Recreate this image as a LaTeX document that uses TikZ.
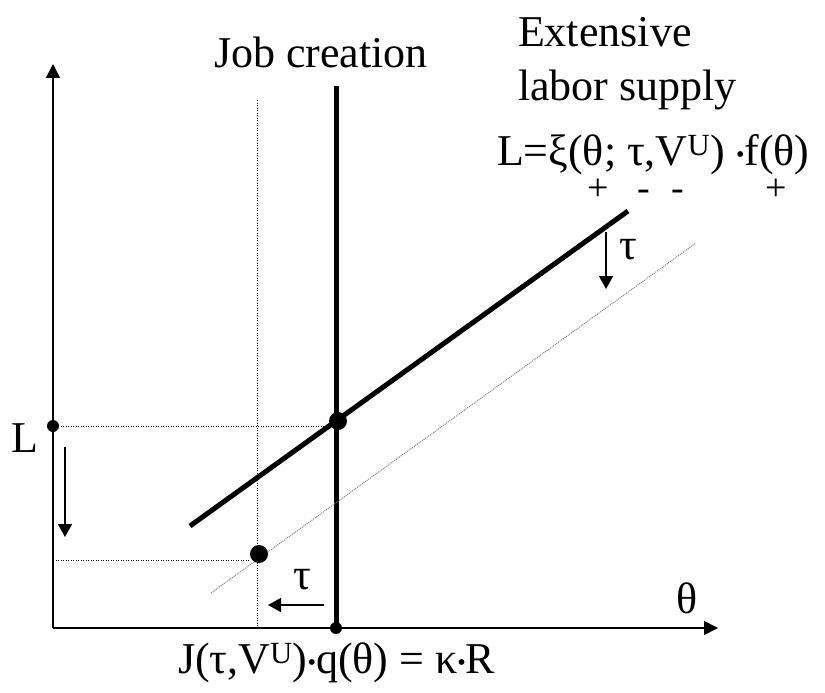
\documentclass[tikz,border=0pt]{standalone}
\usepackage{fontspec}
\setmainfont{Liberation Serif}
\usetikzlibrary{arrows.meta}
\newcommand{\mdt}{\raisebox{0.05em}{\scalebox{0.55}{•}}}
\tikzset{
  txt/.style={inner sep=0pt, outer sep=0pt, font=\fontsize{44}{53}\selectfont},
  sgn/.style={inner sep=0pt, outer sep=0pt, anchor=base, font=\fontsize{38}{38}\selectfont},
  axisline/.style={line width=1.6pt, -{Triangle[length=14pt,width=14pt]}},
  heavy/.style={line width=5pt},
  dotline/.style={line width=1pt, dash pattern=on 1pt off 1.5pt},
  grayline/.style={line width=1pt, gray, dash pattern=on 1pt off 1pt},
  shiftarrow/.style={line width=1.5pt, -{Triangle[length=13pt,width=14pt]}},
  bigdot/.style={circle, fill=black, minimum size=18pt, inner sep=0pt},
  smalldot/.style={circle, fill=black, minimum size=12pt, inner sep=0pt}
}
\begin{document}
\begin{tikzpicture}[x=1pt,y=-1pt]
\useasboundingbox (0,0) rectangle (825,693);
% axes
\coordinate (O) at (53,628);
\coordinate (ytop) at (53,64);
\coordinate (xend) at (718,628);
\draw[axisline] (O) -- (ytop);
\draw[axisline] (O) -- (xend);
% dotted guide lines
\coordinate (dvtop) at (257,100);
\coordinate (dvbot) at (257,628);
\draw[dotline] (dvtop) -- (dvbot);
% job creation line
\coordinate (jtop) at (336,86);
\node[smalldot] (jdot) at (336,628) {};
\draw[heavy] (jtop) -- (jdot.center);
% labor supply lines
\coordinate (ls1) at (190,526);
\coordinate (ls2) at (628,211);
\draw[heavy] (ls1) -- (ls2);
\coordinate (g1) at (211,593);
\coordinate (g2) at (696,243);
\draw[grayline] (g1) -- (g2);
% equilibria
\node[bigdot] (E1) at (338,421) {};
\node[bigdot] (E2) at (259,554) {};
\node[smalldot] (Ldot) at (53,426) {};
\coordinate (L2) at (53,560);
\draw[dotline] (Ldot.center) -- (Ldot.center -| E1.center);
\draw[dotline] (L2) -- (L2 -| E2.west);
% shift arrows
\coordinate (a1s) at (65,447);
\coordinate (a1e) at (65,537);
\draw[shiftarrow] (a1s) -- (a1e);
\coordinate (a2s) at (324,605);
\coordinate (a2e) at (268,605);
\draw[shiftarrow] (a2s) -- (a2e);
\coordinate (a3s) at (606,232);
\coordinate (a3e) at (606,289);
\draw[shiftarrow] (a3s) -- (a3e);
% labels
\node[txt, anchor=base east] (Llab) at (38,452) {L};
\node[txt] (tau1) at (302,580) {τ};
\node[txt] (tau2) at (628,250) {τ};
\node[txt] (thlab) at (687,598) {θ};
\node[txt, anchor=base west] (jc) at (214,67) {Job creation};
\node[txt, anchor=base west] (ext1) at (518,47) {Extensive};
\node[txt, anchor=base west] (ext2) at (518,100) {labor supply};
\node[txt, anchor=base west] (form) at (497,165) {L=ξ(θ; τ,V\textsuperscript{U}) \mdt f(θ)};
\node[sgn] (s1) at (598,200) {+};
\node[sgn] (s2) at (644,200) {-};
\node[sgn] (s3) at (678,200) {-};
\node[sgn] (s4) at (776,200) {+};
\node[txt, anchor=base west] (jform) at (178,673) {J(τ,V\textsuperscript{U})\mdt q(θ) = κ\mdt R};
\end{tikzpicture}
\end{document}
